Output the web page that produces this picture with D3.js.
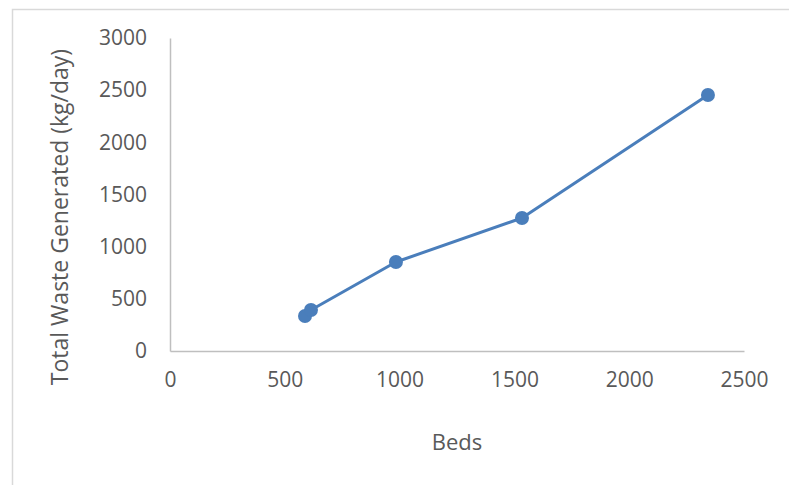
<!DOCTYPE html>
<html>
<head>
<meta charset="utf-8">
<script src="https://cdn.jsdelivr.net/npm/d3@7"></script>
<style>
	body { margin: 0; background: #fff; }
	svg { display: block; }
	text { font-family: "Open Sans", sans-serif; fill: #595959; }
</style>
</head>
<body>
<svg width="789" height="485"></svg>
<script>
// data
var beds = [588, 614, 984, 1533, 2343];
var waste = [335, 393, 853, 1275, 2454];
var xTicks = [0, 500, 1000, 1500, 2000, 2500];
var yTicks = [0, 500, 1000, 1500, 2000, 2500, 3000];

var svg = d3.select('svg');

// outer frame (only top and left edges show)
svg.append('path')
	.attr('d', 'M12.5,485 V9.5 H789')
	.attr('fill', 'none')
	.attr('stroke', '#d9d9d9')
	.attr('stroke-width', 1.5);

var x = d3.scaleLinear().domain([0, 2500]).range([170, 744]);
var y = d3.scaleLinear().domain([0, 3000]).range([351, 38]);

// axes
var xAxis = svg.append('g')
	.attr('transform', 'translate(0,351)')
	.call(d3.axisBottom(x).tickValues(xTicks).tickFormat(d3.format('d')).tickSize(0).tickPadding(21));
var yAxis = svg.append('g')
	.attr('transform', 'translate(170,0)')
	.call(d3.axisLeft(y).tickValues(yTicks).tickFormat(d3.format('d')).tickSize(0).tickPadding(23));

[xAxis, yAxis].forEach(function(a){
	a.select('.domain').attr('stroke', '#bfbfbf').attr('stroke-width', 1.5);
	a.selectAll('text').attr('font-size', 21).attr('font-family', '"Open Sans", sans-serif').attr('fill', '#595959');
});

// axis titles
svg.append('text')
	.attr('x', 457).attr('y', 450)
	.attr('text-anchor', 'middle')
	.attr('font-size', 22)
	.text('Beds');

svg.append('text')
	.attr('transform', 'translate(68,217) rotate(-90)')
	.attr('text-anchor', 'middle')
	.attr('font-size', 23)
	.text('Total Waste Generated (kg/day)');

// series
var pts = beds.map(function(b, i){ return {x: b, y: waste[i]}; });

svg.append('path')
	.datum(pts)
	.attr('fill', 'none')
	.attr('stroke', '#4a7ebb')
	.attr('stroke-width', 3)
	.attr('stroke-linejoin', 'round')
	.attr('d', d3.line().x(function(d){ return x(d.x); }).y(function(d){ return y(d.y); }));

svg.selectAll('circle')
	.data(pts)
	.enter()
	.append('circle')
	.attr('cx', function(d){ return x(d.x); })
	.attr('cy', function(d){ return y(d.y); })
	.attr('r', 7)
	.attr('fill', '#4a7ebb');
</script>
</body>
</html>
